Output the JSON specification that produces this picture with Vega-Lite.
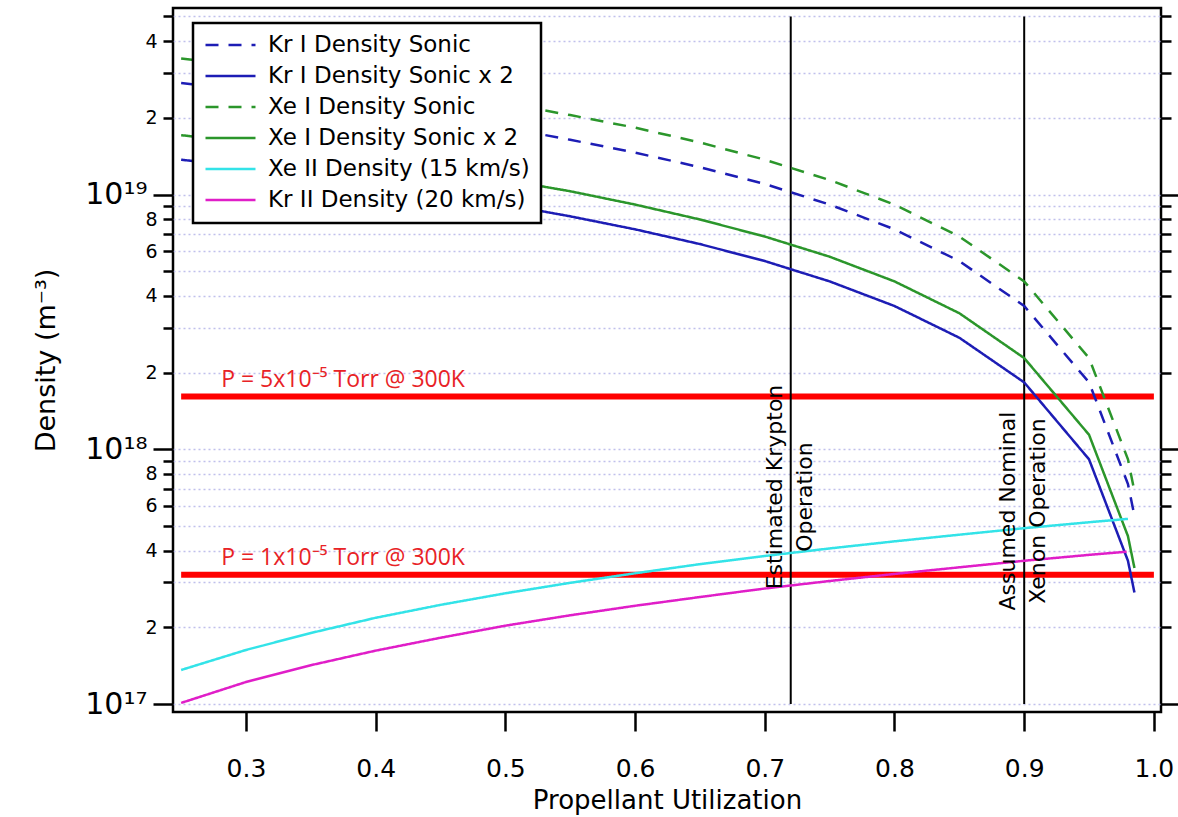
{
  "$schema": "https://vega.github.io/schema/vega-lite/v6.json",
  "width": 988,
  "height": 704,
  "autosize": {"type": "none"},
  "padding": {"left": 173, "top": 8, "right": 17, "bottom": 105},
  "background": "white",
  "config": {
    "view": {"stroke": "black", "strokeWidth": 2.5},
    "font": "DejaVu Sans",
    "axis": {"domain": false, "tickColor": "black", "tickWidth": 2.5, "labelColor": "black", "titleColor": "black", "labelFont": "DejaVu Sans", "titleFont": "DejaVu Sans", "titleFontWeight": "normal"},
    "axisX": {"tickSize": 19, "labelFontSize": 25, "labelPadding": 25, "titleFontSize": 26, "titlePadding": 6, "grid": false}
  },
  "datasets": {
    "press": [
      {"x0": 0.25, "x1": 1.0, "y": 1.61e18, "label": "P = 5x10⁻⁵ Torr @ 300K"},
      {"x0": 0.25, "x1": 1.0, "y": 3.22e17, "label": "P = 1x10⁻⁵ Torr @ 300K"}
    ],
    "ops": [
      {"x": 0.72, "y0": 1e17, "y1": 5e19},
      {"x": 0.9, "y0": 1e17, "y1": 5e19}
    ],
    "notes": [
      {"x": 0.72, "y": 7.11e17, "text": "Estimated Krypton", "side": "L"},
      {"x": 0.72, "y": 6.49e17, "text": "Operation", "side": "R"},
      {"x": 0.9, "y": 5.72e17, "text": "Assumed Nominal", "side": "L"},
      {"x": 0.9, "y": 5.72e17, "text": "Xenon Operation", "side": "R"}
    ],
    "curves": [
      {"s": "Kr I Density Sonic", "x": 0.25, "y": 2.74e19},
      {"s": "Kr I Density Sonic", "x": 0.30, "y": 2.56e19},
      {"s": "Kr I Density Sonic", "x": 0.35, "y": 2.37e19},
      {"s": "Kr I Density Sonic", "x": 0.40, "y": 2.19e19},
      {"s": "Kr I Density Sonic", "x": 0.45, "y": 2.01e19},
      {"s": "Kr I Density Sonic", "x": 0.50, "y": 1.83e19},
      {"s": "Kr I Density Sonic", "x": 0.55, "y": 1.64e19},
      {"s": "Kr I Density Sonic", "x": 0.60, "y": 1.46e19},
      {"s": "Kr I Density Sonic", "x": 0.65, "y": 1.28e19},
      {"s": "Kr I Density Sonic", "x": 0.70, "y": 1.10e19},
      {"s": "Kr I Density Sonic", "x": 0.75, "y": 9.13e18},
      {"s": "Kr I Density Sonic", "x": 0.80, "y": 7.30e18},
      {"s": "Kr I Density Sonic", "x": 0.85, "y": 5.48e18},
      {"s": "Kr I Density Sonic", "x": 0.90, "y": 3.65e18},
      {"s": "Kr I Density Sonic", "x": 0.95, "y": 1.83e18},
      {"s": "Kr I Density Sonic", "x": 0.98, "y": 7.30e17},
      {"s": "Kr I Density Sonic", "x": 0.985, "y": 5.48e17},
      {"s": "Kr I Density Sonic x 2", "x": 0.25, "y": 1.37e19},
      {"s": "Kr I Density Sonic x 2", "x": 0.30, "y": 1.28e19},
      {"s": "Kr I Density Sonic x 2", "x": 0.35, "y": 1.19e19},
      {"s": "Kr I Density Sonic x 2", "x": 0.40, "y": 1.10e19},
      {"s": "Kr I Density Sonic x 2", "x": 0.45, "y": 1.00e19},
      {"s": "Kr I Density Sonic x 2", "x": 0.50, "y": 9.13e18},
      {"s": "Kr I Density Sonic x 2", "x": 0.55, "y": 8.21e18},
      {"s": "Kr I Density Sonic x 2", "x": 0.60, "y": 7.30e18},
      {"s": "Kr I Density Sonic x 2", "x": 0.65, "y": 6.39e18},
      {"s": "Kr I Density Sonic x 2", "x": 0.70, "y": 5.48e18},
      {"s": "Kr I Density Sonic x 2", "x": 0.75, "y": 4.56e18},
      {"s": "Kr I Density Sonic x 2", "x": 0.80, "y": 3.65e18},
      {"s": "Kr I Density Sonic x 2", "x": 0.85, "y": 2.74e18},
      {"s": "Kr I Density Sonic x 2", "x": 0.90, "y": 1.83e18},
      {"s": "Kr I Density Sonic x 2", "x": 0.95, "y": 9.13e17},
      {"s": "Kr I Density Sonic x 2", "x": 0.98, "y": 3.65e17},
      {"s": "Kr I Density Sonic x 2", "x": 0.985, "y": 2.74e17},
      {"s": "Xe I Density Sonic", "x": 0.25, "y": 3.42e19},
      {"s": "Xe I Density Sonic", "x": 0.30, "y": 3.19e19},
      {"s": "Xe I Density Sonic", "x": 0.35, "y": 2.96e19},
      {"s": "Xe I Density Sonic", "x": 0.40, "y": 2.74e19},
      {"s": "Xe I Density Sonic", "x": 0.45, "y": 2.51e19},
      {"s": "Xe I Density Sonic", "x": 0.50, "y": 2.28e19},
      {"s": "Xe I Density Sonic", "x": 0.55, "y": 2.05e19},
      {"s": "Xe I Density Sonic", "x": 0.60, "y": 1.83e19},
      {"s": "Xe I Density Sonic", "x": 0.65, "y": 1.60e19},
      {"s": "Xe I Density Sonic", "x": 0.70, "y": 1.37e19},
      {"s": "Xe I Density Sonic", "x": 0.75, "y": 1.14e19},
      {"s": "Xe I Density Sonic", "x": 0.80, "y": 9.13e18},
      {"s": "Xe I Density Sonic", "x": 0.85, "y": 6.84e18},
      {"s": "Xe I Density Sonic", "x": 0.90, "y": 4.56e18},
      {"s": "Xe I Density Sonic", "x": 0.95, "y": 2.28e18},
      {"s": "Xe I Density Sonic", "x": 0.98, "y": 9.13e17},
      {"s": "Xe I Density Sonic", "x": 0.985, "y": 6.84e17},
      {"s": "Xe I Density Sonic x 2", "x": 0.25, "y": 1.71e19},
      {"s": "Xe I Density Sonic x 2", "x": 0.30, "y": 1.60e19},
      {"s": "Xe I Density Sonic x 2", "x": 0.35, "y": 1.48e19},
      {"s": "Xe I Density Sonic x 2", "x": 0.40, "y": 1.37e19},
      {"s": "Xe I Density Sonic x 2", "x": 0.45, "y": 1.26e19},
      {"s": "Xe I Density Sonic x 2", "x": 0.50, "y": 1.14e19},
      {"s": "Xe I Density Sonic x 2", "x": 0.55, "y": 1.03e19},
      {"s": "Xe I Density Sonic x 2", "x": 0.60, "y": 9.13e18},
      {"s": "Xe I Density Sonic x 2", "x": 0.65, "y": 7.98e18},
      {"s": "Xe I Density Sonic x 2", "x": 0.70, "y": 6.84e18},
      {"s": "Xe I Density Sonic x 2", "x": 0.75, "y": 5.70e18},
      {"s": "Xe I Density Sonic x 2", "x": 0.80, "y": 4.56e18},
      {"s": "Xe I Density Sonic x 2", "x": 0.85, "y": 3.42e18},
      {"s": "Xe I Density Sonic x 2", "x": 0.90, "y": 2.28e18},
      {"s": "Xe I Density Sonic x 2", "x": 0.95, "y": 1.14e18},
      {"s": "Xe I Density Sonic x 2", "x": 0.98, "y": 4.56e17},
      {"s": "Xe I Density Sonic x 2", "x": 0.985, "y": 3.42e17},
      {"s": "Xe II Density (15 km/s)", "x": 0.25, "y": 1.36e17},
      {"s": "Xe II Density (15 km/s)", "x": 0.30, "y": 1.63e17},
      {"s": "Xe II Density (15 km/s)", "x": 0.35, "y": 1.90e17},
      {"s": "Xe II Density (15 km/s)", "x": 0.40, "y": 2.18e17},
      {"s": "Xe II Density (15 km/s)", "x": 0.45, "y": 2.45e17},
      {"s": "Xe II Density (15 km/s)", "x": 0.50, "y": 2.72e17},
      {"s": "Xe II Density (15 km/s)", "x": 0.55, "y": 2.99e17},
      {"s": "Xe II Density (15 km/s)", "x": 0.60, "y": 3.26e17},
      {"s": "Xe II Density (15 km/s)", "x": 0.65, "y": 3.54e17},
      {"s": "Xe II Density (15 km/s)", "x": 0.70, "y": 3.81e17},
      {"s": "Xe II Density (15 km/s)", "x": 0.75, "y": 4.08e17},
      {"s": "Xe II Density (15 km/s)", "x": 0.80, "y": 4.35e17},
      {"s": "Xe II Density (15 km/s)", "x": 0.85, "y": 4.62e17},
      {"s": "Xe II Density (15 km/s)", "x": 0.90, "y": 4.90e17},
      {"s": "Xe II Density (15 km/s)", "x": 0.95, "y": 5.17e17},
      {"s": "Xe II Density (15 km/s)", "x": 0.98, "y": 5.33e17},
      {"s": "Kr II Density (20 km/s)", "x": 0.25, "y": 1.01e17},
      {"s": "Kr II Density (20 km/s)", "x": 0.30, "y": 1.22e17},
      {"s": "Kr II Density (20 km/s)", "x": 0.35, "y": 1.42e17},
      {"s": "Kr II Density (20 km/s)", "x": 0.40, "y": 1.62e17},
      {"s": "Kr II Density (20 km/s)", "x": 0.45, "y": 1.82e17},
      {"s": "Kr II Density (20 km/s)", "x": 0.50, "y": 2.03e17},
      {"s": "Kr II Density (20 km/s)", "x": 0.55, "y": 2.23e17},
      {"s": "Kr II Density (20 km/s)", "x": 0.60, "y": 2.43e17},
      {"s": "Kr II Density (20 km/s)", "x": 0.65, "y": 2.63e17},
      {"s": "Kr II Density (20 km/s)", "x": 0.70, "y": 2.84e17},
      {"s": "Kr II Density (20 km/s)", "x": 0.75, "y": 3.04e17},
      {"s": "Kr II Density (20 km/s)", "x": 0.80, "y": 3.24e17},
      {"s": "Kr II Density (20 km/s)", "x": 0.85, "y": 3.44e17},
      {"s": "Kr II Density (20 km/s)", "x": 0.90, "y": 3.65e17},
      {"s": "Kr II Density (20 km/s)", "x": 0.95, "y": 3.85e17},
      {"s": "Kr II Density (20 km/s)", "x": 0.979, "y": 3.96e17}
    ]
  },
  "resolve": {"axis": {"y": "independent"}},
  "layer": [
    {
      "data": {"name": "press"},
      "mark": {"type": "rule", "color": "#ff0000", "strokeWidth": 6},
      "encoding": {
        "x": {"field": "x0", "type": "quantitative", "scale": {"domain": [0.24372, 1.00548], "nice": false, "zero": false}, "title": "Propellant Utilization", "axis": {"values": [0.3, 0.4, 0.5, 0.6, 0.7, 0.8, 0.9, 1.0], "format": ".1f"}},
        "x2": {"field": "x1"},
        "y": {
          "field": "y", "type": "quantitative",
          "scale": {"type": "log", "domain": [9.303e16, 5.397e19], "nice": false},
          "axis": {
            "orient": "left",
            "values": [1e17, 2e17, 3e17, 4e17, 5e17, 6e17, 7e17, 8e17, 9e17, 1e18, 2e18, 3e18, 4e18, 5e18, 6e18, 7e18, 8e18, 9e18, 1e19, 2e19, 3e19, 4e19, 5e19],
            "grid": true, "gridColor": "#c0c0ec", "gridDash": [2, 3], "gridWidth": 1.3,
            "labelExpr": "datum.value == 1e17 ? '10¹⁷' : datum.value == 1e18 ? '10¹⁸' : datum.value == 1e19 ? '10¹⁹' : (indexof([2, 4, 6, 8], round(datum.value / pow(10, floor(log(datum.value) / LN10 + 1e-6)))) >= 0 ? '' + round(datum.value / pow(10, floor(log(datum.value) / LN10 + 1e-6))) : '')",
            "labelFontSize": {"condition": {"test": "datum.value == 1e17 || datum.value == 1e18 || datum.value == 1e19", "value": 30}, "value": 19},
            "tickSize": {"condition": {"test": "datum.value == 1e17 || datum.value == 1e18 || datum.value == 1e19", "value": 20}, "value": 10},
            "labelPadding": 6,
            "labelBaseline": "middle",
            "title": "Density (m⁻³)", "titleFontSize": 27, "titlePadding": 24
          }
        }
      }
    },
    {
      "data": {"name": "ops"},
      "mark": {"type": "rule", "color": "black", "strokeWidth": 2},
      "encoding": {
        "x": {"field": "x", "type": "quantitative", "scale": {"domain": [0.24372, 1.00548], "nice": false, "zero": false}, "title": "Propellant Utilization", "axis": {"values": [0.3, 0.4, 0.5, 0.6, 0.7, 0.8, 0.9, 1.0], "format": ".1f"}},
        "y": {
          "field": "y0", "type": "quantitative",
          "scale": {"type": "log", "domain": [9.303e16, 5.397e19], "nice": false},
          "axis": {
            "orient": "right",
            "values": [1e17, 2e17, 3e17, 4e17, 5e17, 6e17, 7e17, 8e17, 9e17, 1e18, 2e18, 3e18, 4e18, 5e18, 6e18, 7e18, 8e18, 9e18, 1e19, 2e19, 3e19, 4e19, 5e19],
            "grid": false, "labels": false, "title": null,
            "tickSize": {"condition": {"test": "datum.value == 1e17 || datum.value == 1e18 || datum.value == 1e19", "value": 20}, "value": 10}
          }
        },
        "y2": {"field": "y1"}
      }
    },
    {
      "data": {"name": "curves"},
      "mark": {"type": "line", "strokeWidth": 2.5},
      "encoding": {
        "x": {"field": "x", "type": "quantitative", "scale": {"domain": [0.24372, 1.00548], "nice": false, "zero": false}, "title": "Propellant Utilization", "axis": {"values": [0.3, 0.4, 0.5, 0.6, 0.7, 0.8, 0.9, 1.0], "format": ".1f"}},
        "y": {"field": "y", "type": "quantitative", "scale": {"type": "log", "domain": [9.303e16, 5.397e19], "nice": false}, "axis": null},
        "color": {
          "field": "s", "type": "nominal",
          "scale": {
            "domain": ["Kr I Density Sonic", "Kr I Density Sonic x 2", "Xe I Density Sonic", "Xe I Density Sonic x 2", "Xe II Density (15 km/s)", "Kr II Density (20 km/s)"],
            "range": ["#1d1db5", "#1d1db5", "#2b962b", "#2b962b", "#33e3e8", "#e01ec8"]
          },
          "legend": {
            "title": null, "orient": "none", "legendX": 20, "legendY": 15,
            "symbolType": "stroke", "symbolSize": 2500, "symbolStrokeWidth": 2.5, "clipHeight": 22,
            "labelFontSize": 23, "labelFont": "DejaVu Sans", "labelColor": "black", "labelOffset": 11, "labelLimit": 400,
            "rowPadding": 8, "padding": 11, "fillColor": "white", "strokeColor": "black",
            "encode": {"legend": {"update": {"strokeWidth": {"value": 2.5}}}}
          }
        },
        "strokeDash": {
          "field": "s", "type": "nominal",
          "scale": {
            "domain": ["Kr I Density Sonic", "Kr I Density Sonic x 2", "Xe I Density Sonic", "Xe I Density Sonic x 2", "Xe II Density (15 km/s)", "Kr II Density (20 km/s)"],
            "range": [[13, 10], [1, 0], [13, 10], [1, 0], [1, 0], [1, 0]]
          },
          "legend": {
            "title": null, "orient": "none", "legendX": 20, "legendY": 15,
            "symbolType": "stroke", "symbolSize": 2500, "symbolStrokeWidth": 2.5, "clipHeight": 22,
            "labelFontSize": 23, "labelFont": "DejaVu Sans", "labelColor": "black", "labelOffset": 11, "labelLimit": 400,
            "rowPadding": 8, "padding": 11, "fillColor": "white", "strokeColor": "black",
            "encode": {"legend": {"update": {"strokeWidth": {"value": 2.5}}}}
          }
        }
      }
    },
    {
      "data": {"name": "press"},
      "mark": {"type": "text", "color": "#e82226", "font": "Open Sans", "fontSize": 23, "align": "left", "baseline": "alphabetic", "dx": 40, "dy": -10},
      "encoding": {
        "x": {"field": "x0", "type": "quantitative", "scale": {"domain": [0.24372, 1.00548], "nice": false, "zero": false}, "title": "Propellant Utilization", "axis": {"values": [0.3, 0.4, 0.5, 0.6, 0.7, 0.8, 0.9, 1.0], "format": ".1f"}},
        "y": {"field": "y", "type": "quantitative", "scale": {"type": "log", "domain": [9.303e16, 5.397e19], "nice": false}, "axis": null},
        "text": {"field": "label"}
      }
    },
    {
      "data": {"name": "notes"},
      "transform": [{"filter": "datum.side == 'L'"}],
      "mark": {"type": "text", "color": "black", "font": "DejaVu Sans", "fontSize": 22, "angle": 270, "align": "center", "baseline": "alphabetic", "dy": -9},
      "encoding": {
        "x": {"field": "x", "type": "quantitative", "scale": {"domain": [0.24372, 1.00548], "nice": false, "zero": false}, "title": "Propellant Utilization", "axis": {"values": [0.3, 0.4, 0.5, 0.6, 0.7, 0.8, 0.9, 1.0], "format": ".1f"}},
        "y": {"field": "y", "type": "quantitative", "scale": {"type": "log", "domain": [9.303e16, 5.397e19], "nice": false}, "axis": null},
        "text": {"field": "text"}
      }
    },
    {
      "data": {"name": "notes"},
      "transform": [{"filter": "datum.side == 'R'"}],
      "mark": {"type": "text", "color": "black", "font": "DejaVu Sans", "fontSize": 22, "angle": 270, "align": "center", "baseline": "alphabetic", "dy": 21},
      "encoding": {
        "x": {"field": "x", "type": "quantitative", "scale": {"domain": [0.24372, 1.00548], "nice": false, "zero": false}, "title": "Propellant Utilization", "axis": {"values": [0.3, 0.4, 0.5, 0.6, 0.7, 0.8, 0.9, 1.0], "format": ".1f"}},
        "y": {"field": "y", "type": "quantitative", "scale": {"type": "log", "domain": [9.303e16, 5.397e19], "nice": false}, "axis": null},
        "text": {"field": "text"}
      }
    }
  ]
}
